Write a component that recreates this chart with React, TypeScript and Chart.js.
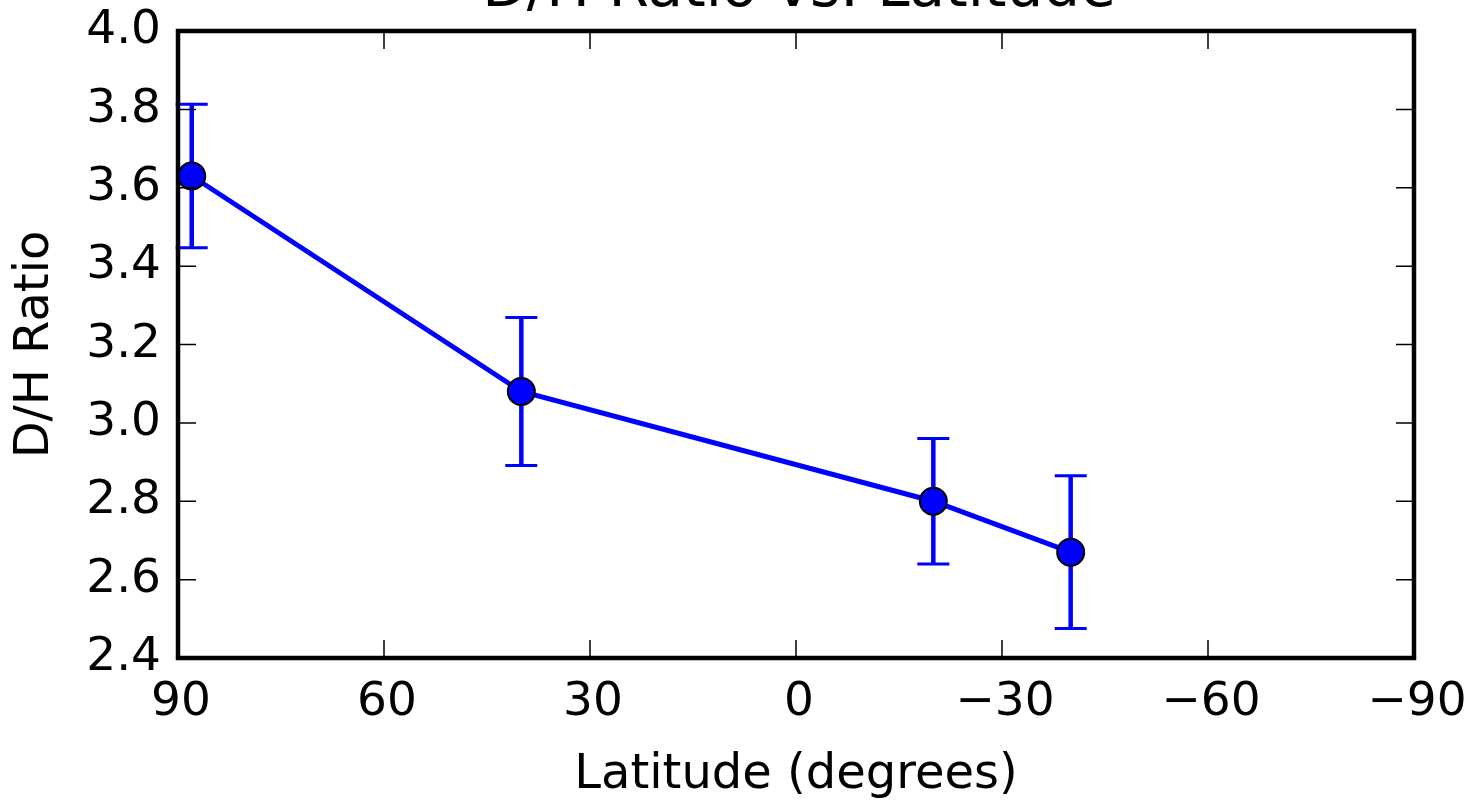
import { useEffect, useRef } from 'react';
import { Chart, registerables } from 'chart.js';

Chart.register(...registerables);

const latitudes = [88, 40, -20, -40];
const dhRatio = [3.63, 3.08, 2.8, 2.67];
const dhError = [0.183, 0.189, 0.16, 0.195];
const xTicks = [90, 60, 30, 0, -30, -60, -90];
const yTicks = [2.4, 2.6, 2.8, 3.0, 3.2, 3.4, 3.6, 3.8, 4.0];
const titleText = 'D/H Ratio vs. Latitude';
const xLabel = 'Latitude (degrees)';
const yLabel = 'D/H Ratio';

const FONT = "'DejaVu Sans', sans-serif";
const BLUE = '#0000ff';

const fmtX = (v: number) => (v < 0 ? '\u2212' + Math.abs(v) : String(v));

const errorBarPlugin = {
  id: 'errorBars',
  beforeDatasetsDraw(chart: any) {
    const xs = chart.scales.x;
    const ys = chart.scales.y;
    const ctx = chart.ctx;
    ctx.save();
    ctx.strokeStyle = BLUE;
    latitudes.forEach((lat, i) => {
      const px = xs.getPixelForValue(lat);
      const top = ys.getPixelForValue(dhRatio[i] + dhError[i]);
      const bot = ys.getPixelForValue(dhRatio[i] - dhError[i]);
      ctx.lineWidth = 4.5;
      ctx.beginPath();
      ctx.moveTo(px, top);
      ctx.lineTo(px, bot);
      ctx.stroke();
      ctx.lineWidth = 3;
      ctx.beginPath();
      ctx.moveTo(px - 16, top);
      ctx.lineTo(px + 16, top);
      ctx.moveTo(px - 16, bot);
      ctx.lineTo(px + 16, bot);
      ctx.stroke();
    });
    ctx.restore();
  },
};

const framePlugin = {
  id: 'frame',
  afterDatasetsDraw(chart: any) {
    const { left, right, top, bottom } = chart.chartArea;
    const xs = chart.scales.x;
    const ys = chart.scales.y;
    const ctx = chart.ctx;
    ctx.save();
    ctx.strokeStyle = '#000';
    ctx.lineWidth = 1.5;
    const tl = 18;
    ctx.beginPath();
    xTicks.forEach((t) => {
      const px = xs.getPixelForValue(t);
      ctx.moveTo(px, top);
      ctx.lineTo(px, top + tl);
      ctx.moveTo(px, bottom);
      ctx.lineTo(px, bottom - tl);
    });
    yTicks.forEach((t) => {
      const py = ys.getPixelForValue(t);
      ctx.moveTo(left, py);
      ctx.lineTo(left + tl, py);
      ctx.moveTo(right, py);
      ctx.lineTo(right - tl, py);
    });
    ctx.stroke();
    ctx.lineWidth = 4.5;
    ctx.strokeRect(left, top, right - left, bottom - top);
    ctx.restore();
  },
};

const titlePlugin = {
  id: 'cutTitle',
  afterDraw(chart: any) {
    const { left, right } = chart.chartArea;
    const ctx = chart.ctx;
    ctx.save();
    ctx.fillStyle = '#000';
    ctx.font = `58px ${FONT}`;
    ctx.textAlign = 'center';
    ctx.textBaseline = 'alphabetic';
    ctx.fillText(titleText, (left + right) / 2 + 3, 6);
    ctx.restore();
  },
};

export default function App() {
  const ref = useRef<HTMLCanvasElement>(null);

  useEffect(() => {
    if (!ref.current) return;
    const chart = new Chart(ref.current, {
      type: 'line',
      data: {
        datasets: [
          {
            data: latitudes.map((x, i) => ({ x, y: dhRatio[i] })),
            borderColor: BLUE,
            borderWidth: 5,
            pointRadius: 13.5,
            pointBackgroundColor: BLUE,
            pointBorderColor: '#000',
            pointBorderWidth: 2,
            tension: 0,
            clip: false as any,
          },
        ],
      },
      options: {
        responsive: false,
        animation: false,
        devicePixelRatio: 1,
        layout: { padding: { top: 31, right: 65, left: 0, bottom: 0 } },
        plugins: {
          legend: { display: false },
          tooltip: { enabled: false },
          title: { display: false },
        },
        scales: {
          x: {
            type: 'linear',
            reverse: true,
            min: -90,
            max: 90,
            afterBuildTicks: (s: any) => {
              s.ticks = xTicks.map((v) => ({ value: v }));
            },
            afterFit: (s: any) => {
              s.height = 143;
              s.paddingLeft = 0;
              s.paddingRight = 0;
            },
            grid: { display: false, drawTicks: false },
            border: { display: false },
            ticks: {
              color: '#000',
              font: { family: FONT, size: 47 },
              padding: 17,
              maxRotation: 0,
              autoSkip: false,
              labelOffset: 3,
              callback: (v: any) => fmtX(Number(v)),
            },
            title: {
              display: true,
              text: xLabel,
              color: '#000',
              font: { family: FONT, size: 48 },
              padding: { top: 0, bottom: -3 },
            },
          },
          y: {
            type: 'linear',
            min: 2.4,
            max: 4.0,
            afterBuildTicks: (s: any) => {
              s.ticks = yTicks.map((v) => ({ value: v }));
            },
            afterFit: (s: any) => {
              s.width = 178;
              s.paddingTop = 0;
              s.paddingBottom = 0;
            },
            grid: { display: false, drawTicks: false },
            border: { display: false },
            ticks: {
              color: '#000',
              font: { family: FONT, size: 47 },
              padding: 17,
              autoSkip: false,
              callback: (v: any) => Number(v).toFixed(1),
            },
            title: {
              display: true,
              text: yLabel,
              color: '#000',
              font: { family: FONT, size: 48 },
              padding: { top: 7, bottom: 0 },
            },
          },
        },
      },
      plugins: [errorBarPlugin, framePlugin, titlePlugin],
    });
    return () => chart.destroy();
  }, []);

  return (
    <div style={{ position: 'fixed', left: 0, top: 0, width: 1479, height: 801, background: '#fff' }}>
      <canvas ref={ref} width={1479} height={801} style={{ display: 'block' }} />
    </div>
  );
}
